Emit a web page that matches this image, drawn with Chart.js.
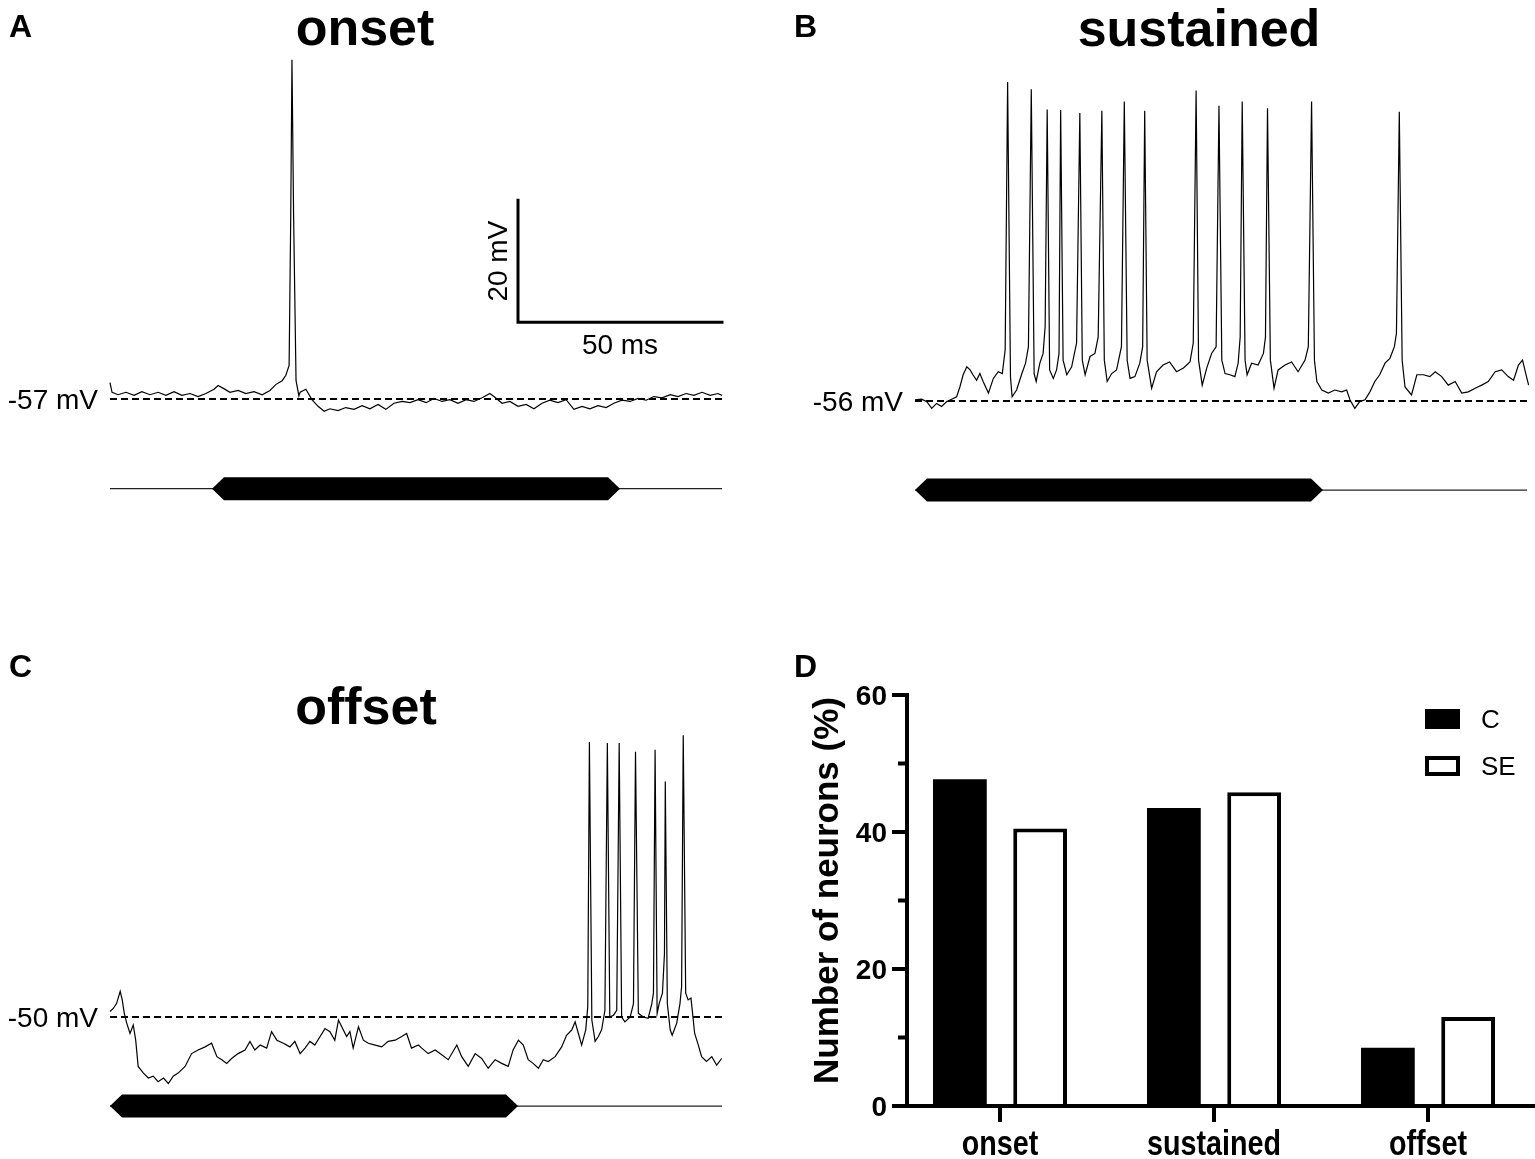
<!DOCTYPE html>
<html>
<head>
<meta charset="utf-8">
<script src="https://cdn.jsdelivr.net/npm/chart.js@4.4.1/dist/chart.umd.min.js"></script>
<style>
  html, body { margin: 0; padding: 0; background: #fff; overflow: hidden; }
  #fig { position: relative; width: 1535px; height: 1159px; background: #fff; }
  #fig canvas { position: absolute; left: 0; top: 0; }
</style>
</head>
<body>
<div id="fig">
  <canvas id="chartA" width="1535" height="1159"></canvas>
  <canvas id="chartB" width="1535" height="1159"></canvas>
  <canvas id="chartC" width="1535" height="1159"></canvas>
  <canvas id="chartD" width="1535" height="1159"></canvas>
</div>
<script>
// ---- data ----
// membrane potential traces, [time in ms, Vm in mV]
const traceA = [
  [0.0,-54.3],[0.5,-55.9],[2.0,-56.3],[3.9,-55.9],[5.9,-56.4],[7.8,-55.8],[9.8,-56.3],[11.8,-55.9],
  [13.7,-56.4],[15.7,-55.8],[17.6,-56.4],[19.6,-56.1],[21.6,-56.6],[23.5,-56.1],[25.5,-55.4],[26.5,-54.8],
  [27.9,-55.3],[29.4,-55.9],[31.4,-55.6],[33.3,-56.1],[35.3,-55.8],[37.3,-56.3],[39.2,-55.6],[40.7,-54.6],
  [42.2,-54.0],[43.1,-53.1],[43.9,-51.5],[44.3,-27.0],[44.6,-1.4],[45.0,-27.0],[45.6,-54.0],[46.3,-56.5],
  [46.6,-55.9],[48.0,-55.4],[49.5,-57.1],[51.0,-58.2],[52.5,-59.0],[53.9,-58.6],[55.9,-58.9],[57.8,-58.4],
  [59.8,-58.7],[61.8,-58.1],[63.7,-58.6],[65.7,-57.9],[67.6,-58.7],[69.6,-57.7],[71.6,-57.4],[73.5,-57.6],
  [75.5,-57.1],[77.5,-57.6],[79.4,-56.9],[81.4,-57.4],[83.3,-57.1],[85.3,-57.7],[87.3,-57.1],[89.2,-57.4],
  [91.2,-56.8],[93.1,-56.1],[94.1,-56.6],[96.1,-57.7],[98.0,-57.4],[100.0,-58.2],[102.0,-57.9],[103.9,-58.6],
  [105.9,-57.7],[107.8,-57.2],[109.8,-57.6],[111.8,-57.1],[113.7,-58.7],[115.7,-58.2],[117.6,-58.6],[119.6,-58.1],
  [121.6,-58.4],[123.5,-57.7],[125.5,-57.2],[127.5,-57.4],[129.4,-56.9],[131.4,-57.2],[133.3,-56.6],[135.3,-56.8],
  [137.3,-56.3],[139.2,-56.6],[141.2,-56.1],[143.1,-56.4],[145.1,-55.9],[147.1,-56.4],[149.0,-56.1],[150.0,-56.4]
];

const traceB = [
  [0.0,-55.8],[1.6,-55.7],[2.9,-56.1],[4.1,-57.2],[5.3,-56.4],[6.5,-56.9],[7.8,-56.1],[9.0,-55.7],
  [10.2,-55.3],[11.0,-53.7],[11.8,-51.7],[12.7,-50.4],[13.5,-50.9],[14.2,-51.7],[15.1,-52.6],[15.9,-51.5],
  [16.7,-52.8],[18.0,-54.7],[19.2,-52.3],[20.4,-51.2],[21.4,-51.5],[22.1,-47.6],[22.7,-3.7],[23.4,-52.0],
  [23.8,-55.3],[24.9,-54.2],[26.2,-51.5],[27.1,-49.8],[27.8,-47.1],[28.5,-4.9],[29.2,-51.5],[29.7,-52.8],
  [30.6,-49.8],[31.4,-48.2],[31.9,-43.8],[32.4,-8.2],[33.0,-50.9],[33.9,-52.3],[34.7,-50.9],[35.3,-48.2],
  [35.7,-8.3],[36.3,-49.3],[37.2,-51.7],[38.4,-50.4],[39.6,-46.5],[40.4,-8.8],[41.0,-49.3],[41.7,-51.7],
  [42.9,-48.7],[44.1,-48.2],[44.9,-45.5],[45.8,-8.4],[46.4,-49.3],[47.1,-52.8],[48.2,-51.5],[49.4,-50.9],
  [50.6,-47.1],[51.3,-6.9],[52.0,-49.3],[52.7,-52.3],[53.9,-52.0],[55.1,-49.8],[55.8,-47.1],[56.3,-8.4],
  [56.9,-49.3],[58.0,-53.9],[59.2,-51.2],[60.8,-50.1],[62.4,-49.6],[64.1,-51.2],[65.8,-50.6],[67.4,-49.6],
  [68.2,-46.5],[68.9,-5.1],[69.5,-49.3],[70.4,-53.4],[71.5,-50.6],[72.7,-48.2],[73.8,-47.1],[74.5,-7.6],
  [75.2,-49.3],[76.0,-51.5],[77.2,-51.7],[78.4,-52.0],[79.2,-49.8],[79.7,-45.5],[80.2,-6.9],[80.9,-49.3],
  [81.4,-51.7],[82.5,-49.8],[84.1,-50.1],[85.4,-48.2],[85.9,-45.5],[86.4,-8.0],[87.1,-49.3],[88.0,-53.9],
  [89.0,-50.9],[90.7,-50.1],[92.3,-49.6],[93.9,-51.2],[95.6,-49.3],[96.4,-47.1],[97.2,-6.9],[97.9,-49.3],
  [98.5,-52.8],[99.7,-54.2],[101.3,-54.7],[102.9,-54.2],[104.6,-54.5],[105.8,-54.2],[106.6,-55.8],[107.8,-57.2],
  [109.0,-56.1],[110.3,-55.8],[111.5,-54.5],[112.7,-52.8],[113.9,-51.7],[115.2,-49.8],[116.4,-49.0],[117.5,-47.1],
  [118.0,-44.9],[118.7,-8.6],[119.4,-49.3],[120.1,-53.7],[121.7,-55.0],[123.0,-51.7],[124.6,-51.7],[126.2,-52.0],
  [127.5,-51.2],[129.1,-52.0],[130.7,-53.4],[132.4,-52.8],[134.0,-54.7],[135.6,-54.5],[137.3,-53.9],[138.9,-53.4],
  [140.5,-52.8],[142.2,-51.2],[143.8,-50.9],[145.4,-52.0],[146.7,-52.6],[147.9,-50.1],[148.9,-49.3],[149.7,-51.5],
  [150.4,-53.4]
];

const traceC = [
  [0.0,-49.1],[0.8,-48.6],[1.6,-47.8],[2.5,-45.8],[3.0,-47.2],[3.5,-49.4],[4.1,-51.0],[4.9,-52.7],
  [5.7,-51.3],[6.3,-53.8],[6.9,-58.1],[8.2,-59.2],[9.4,-60.0],[10.6,-59.7],[11.8,-60.6],[13.1,-60.0],
  [14.3,-60.9],[15.5,-59.7],[16.7,-59.2],[18.4,-58.1],[20.0,-56.0],[21.6,-55.4],[23.3,-54.9],[24.9,-54.3],
  [26.2,-56.5],[27.4,-57.0],[28.6,-57.6],[29.8,-56.8],[31.4,-56.0],[33.1,-55.4],[34.3,-54.0],[35.5,-55.4],
  [36.8,-54.6],[38.4,-55.1],[39.6,-52.4],[40.9,-53.8],[42.5,-54.3],[44.1,-54.9],[45.3,-54.0],[46.6,-56.0],
  [47.8,-55.1],[49.0,-54.0],[50.2,-54.6],[51.5,-53.2],[52.7,-51.9],[53.9,-52.4],[55.1,-53.8],[56.0,-50.5],
  [56.8,-51.6],[58.0,-53.2],[58.8,-52.4],[59.6,-55.1],[60.9,-51.6],[62.1,-53.8],[63.3,-54.3],[65.0,-54.6],
  [66.6,-54.9],[68.2,-54.0],[69.9,-53.8],[71.5,-53.2],[72.7,-52.7],[73.9,-55.1],[75.6,-54.6],[76.4,-55.1],
  [78.0,-56.0],[79.7,-55.4],[81.3,-56.2],[82.9,-57.0],[85.0,-54.6],[86.2,-56.5],[87.8,-58.1],[89.5,-56.0],
  [91.1,-56.8],[92.7,-58.4],[94.4,-57.0],[96.0,-57.6],[97.6,-58.1],[98.8,-55.4],[100.1,-53.8],[101.3,-54.6],
  [102.5,-57.0],[103.7,-57.6],[105.0,-58.4],[106.2,-57.0],[107.4,-57.3],[109.1,-56.5],[110.7,-54.9],[111.9,-53.0],
  [113.2,-52.1],[114.0,-50.8],[114.8,-52.7],[115.6,-54.6],[116.6,-52.1],[117.1,-48.3],[117.5,-4.9],[118.1,-50.5],
  [118.9,-54.0],[119.7,-53.2],[120.5,-52.1],[121.3,-48.9],[121.9,-5.1],[122.5,-50.0],[123.4,-49.7],[124.2,-48.9],
  [124.8,-5.1],[125.4,-50.0],[126.2,-50.8],[127.5,-50.0],[128.3,-47.8],[128.8,-6.5],[129.5,-49.4],[130.7,-50.0],
  [131.9,-50.2],[132.8,-47.8],[133.2,-46.1],[133.6,-6.2],[134.1,-49.4],[134.6,-47.8],[135.4,-46.1],[135.9,-39.6],
  [136.1,-11.4],[136.6,-47.8],[137.3,-52.1],[137.8,-53.0],[138.9,-51.0],[139.7,-47.8],[140.1,-45.0],[140.5,-3.8],
  [141.1,-46.1],[141.7,-47.2],[142.4,-46.9],[143.3,-52.7],[144.2,-54.6],[145.0,-56.5],[146.2,-57.3],[147.5,-56.5],
  [148.7,-57.9],[149.9,-56.8]
];

// resting levels (dashed lines), mV
const restA = -57;
const restB = -56;
const restC = -50;

// sound stimulus windows, ms
const stimA = [25, 125];
const stimB = [0, 100];
const stimC = [0, 100];

// scale bar
const scaleBarMs = 50;
const scaleBarMv = 20;

// panel D
const categories = ['onset', 'sustained', 'offset'];
const pctC = [47.7, 43.5, 8.5];
const pctSE = [40.5, 45.8, 13.0];
const yTicks = [0, 20, 40, 60];
const yMinorTicks = [10, 30, 50];

// ---- layout helpers ----
const FIG_W = 1535, FIG_H = 1159;
const PX_PER_MS = 4.08;
const PX_PER_MV = 6.1;
const SWEEP_MS = 150;
const FONT = '"Liberation Sans", Arial, Helvetica, sans-serif';

Chart.defaults.font.family = FONT;

function tracePadding(left, restY, rest, yMin, yMax) {
  const top = restY - (yMax - rest) * PX_PER_MV;
  const bottom = restY + (rest - yMin) * PX_PER_MV;
  const right = left + SWEEP_MS * PX_PER_MS;
  return { left: left, right: FIG_W - right, top: top, bottom: FIG_H - bottom };
}

function panelHeading(ctx, o) {
  ctx.fillStyle = '#000';
  ctx.textBaseline = 'alphabetic';
  ctx.font = 'bold 32px ' + FONT;
  ctx.textAlign = 'left';
  ctx.fillText(o.letter, o.letterX, o.letterY);
  if (o.title) {
    ctx.font = 'bold 52px ' + FONT;
    ctx.textAlign = 'center';
    ctx.fillText(o.title, o.titleX, o.titleY);
  }
}

const traceDecor = {
  id: 'traceDecor',
  afterDatasetsDraw(chart, args, o) {
    const ctx = chart.ctx;
    const x = chart.scales.x, y = chart.scales.y, area = chart.chartArea;
    ctx.save();

    // stimulus: thin line plus filled bar with pointed ends
    const sy = y.getPixelForValue(o.stimLevel);
    ctx.strokeStyle = '#222';
    ctx.lineWidth = 1.3;
    ctx.beginPath();
    ctx.moveTo(area.left, sy);
    ctx.lineTo(area.right, sy);
    ctx.stroke();
    const x1 = x.getPixelForValue(o.stim[0]);
    const x2 = x.getPixelForValue(o.stim[1]);
    const h = 11.5, tip = 12;
    ctx.fillStyle = '#000';
    ctx.beginPath();
    ctx.moveTo(x1, sy);
    ctx.lineTo(x1 + tip, sy - h);
    ctx.lineTo(x2 - tip, sy - h);
    ctx.lineTo(x2, sy);
    ctx.lineTo(x2 - tip, sy + h);
    ctx.lineTo(x1 + tip, sy + h);
    ctx.closePath();
    ctx.fill();

    // resting potential label
    const ry = y.getPixelForValue(o.rest);
    ctx.font = '28px ' + FONT;
    ctx.textAlign = 'right';
    ctx.textBaseline = 'alphabetic';
    ctx.fillText(o.rest + ' mV', area.left - 12, ry + 10);

    // scale bar
    if (o.scaleBar) {
      const cx = x.getPixelForValue(o.scaleBar.t);
      const cy = y.getPixelForValue(o.scaleBar.v);
      const tx = x.getPixelForValue(o.scaleBar.t + scaleBarMs);
      const ty = y.getPixelForValue(o.scaleBar.v + scaleBarMv);
      ctx.strokeStyle = '#000';
      ctx.lineWidth = 3;
      ctx.lineCap = 'square';
      ctx.beginPath();
      ctx.moveTo(cx, ty);
      ctx.lineTo(cx, cy);
      ctx.lineTo(tx, cy);
      ctx.stroke();
      ctx.font = '28px ' + FONT;
      ctx.textAlign = 'center';
      ctx.fillText(scaleBarMs + ' ms', (cx + tx) / 2, cy + 32);
      ctx.save();
      ctx.translate(cx - 11, (cy + ty) / 2);
      ctx.rotate(-Math.PI / 2);
      ctx.fillText(scaleBarMv + ' mV', 0, 0);
      ctx.restore();
    }

    panelHeading(ctx, o);
    ctx.restore();
  }
};

function traceChart(id, trace, rest, yRange, padding, decor) {
  return new Chart(document.getElementById(id), {
    type: 'line',
    data: {
      datasets: [
        {
          data: trace.map(p => ({ x: p[0], y: p[1] })),
          borderColor: '#000',
          borderWidth: 1.2,
          pointRadius: 0,
          tension: 0,
          clip: false
        },
        {
          data: [{ x: 0, y: rest }, { x: SWEEP_MS, y: rest }],
          borderColor: '#000',
          borderWidth: 2,
          borderDash: [7, 4],
          pointRadius: 0,
          clip: false
        }
      ]
    },
    options: {
      responsive: false,
      animation: false,
      events: [],
      layout: { padding: padding },
      plugins: {
        legend: { display: false },
        tooltip: { enabled: false },
        traceDecor: decor
      },
      scales: {
        x: { type: 'linear', min: 0, max: SWEEP_MS, display: false },
        y: { type: 'linear', min: yRange[0], max: yRange[1], display: false }
      }
    },
    plugins: [traceDecor]
  });
}

// A: onset
traceChart('chartA', traceA, restA, [-80, 0], tracePadding(110, 399, restA, -80, 0), {
  rest: restA, stim: stimA, stimLevel: -71.7,
  scaleBar: { t: 100, v: -44.4 },
  letter: 'A', letterX: 9, letterY: 37,
  title: 'onset', titleX: 365, titleY: 45
});

// B: sustained
traceChart('chartB', traceB, restB, [-80, 0], tracePadding(915, 401, restB, -80, 0), {
  rest: restB, stim: stimB, stimLevel: -70.6,
  letter: 'B', letterX: 794, letterY: 37,
  title: 'sustained', titleX: 1199, titleY: 46
});

// C: offset
traceChart('chartC', traceC, restC, [-70, 0], tracePadding(110, 1017, restC, -70, 0), {
  rest: restC, stim: stimC, stimLevel: -64.6,
  letter: 'C', letterX: 9, letterY: 677,
  title: 'offset', titleX: 366, titleY: 724
});

// D: bar chart
const barAxes = {
  id: 'barAxes',
  afterDatasetsDraw(chart, args, o) {
    const ctx = chart.ctx;
    const x = chart.scales.x, y = chart.scales.y, area = chart.chartArea;
    const ax = area.left + o.axisOffset;
    const y0 = y.getPixelForValue(0);
    ctx.save();
    ctx.strokeStyle = '#000';
    ctx.lineWidth = 4;
    ctx.lineCap = 'butt';
    ctx.beginPath();
    ctx.moveTo(ax, y.getPixelForValue(yTicks[yTicks.length - 1]) - 2);
    ctx.lineTo(ax, y0 + 2);
    ctx.moveTo(area.left - 1, y0);
    ctx.lineTo(area.right, y0);
    yTicks.forEach(v => {
      const p = y.getPixelForValue(v);
      ctx.moveTo(ax - 15, p);
      ctx.lineTo(ax, p);
    });
    yMinorTicks.forEach(v => {
      const p = y.getPixelForValue(v);
      ctx.moveTo(ax - 9, p);
      ctx.lineTo(ax, p);
    });
    categories.forEach((c, i) => {
      const p = x.getPixelForValue(i);
      ctx.moveTo(p, y0);
      ctx.lineTo(p, y0 + 16);
    });
    ctx.stroke();

    // tick labels
    ctx.fillStyle = '#000';
    ctx.textBaseline = 'alphabetic';
    ctx.font = 'bold 28px ' + FONT;
    ctx.textAlign = 'right';
    yTicks.forEach(v => {
      ctx.fillText(String(v), ax - 20, y.getPixelForValue(v) + 10);
    });
    ctx.font = 'bold 35px ' + FONT;
    ctx.textAlign = 'center';
    categories.forEach((c, i) => {
      ctx.save();
      ctx.translate(x.getPixelForValue(i), y0 + 49);
      ctx.scale(0.82, 1);
      ctx.fillText(c, 0, 0);
      ctx.restore();
    });

    // axis title
    ctx.save();
    ctx.font = 'bold 35px ' + FONT;
    ctx.translate(838, (area.top + y0) / 2 - 10);
    ctx.rotate(-Math.PI / 2);
    ctx.textAlign = 'center';
    ctx.fillText('Number of neurons (%)', 0, 0);
    ctx.restore();

    // legend
    const ds = chart.data.datasets;
    ctx.font = '26px ' + FONT;
    ctx.textAlign = 'left';
    ds.forEach((d, i) => {
      const ly = o.legendY[i];
      ctx.fillStyle = d.backgroundColor;
      ctx.fillRect(o.legendX, ly - 10, 35, 20);
      if (d.borderWidth) {
        ctx.strokeStyle = d.borderColor;
        ctx.lineWidth = 4;
        ctx.strokeRect(o.legendX + 2, ly - 8, 31, 16);
      }
      ctx.fillStyle = '#000';
      ctx.fillText(d.label, o.legendX + 56, ly + 9);
    });

    panelHeading(ctx, o);
    ctx.restore();
  }
};

new Chart(document.getElementById('chartD'), {
  type: 'bar',
  data: {
    labels: categories,
    datasets: [
      { label: 'C', data: pctC, backgroundColor: '#000', borderWidth: 0 },
      { label: 'SE', data: pctSE, backgroundColor: '#fff', borderColor: '#000', borderWidth: 4 }
    ]
  },
  options: {
    responsive: false,
    animation: false,
    events: [],
    categoryPercentage: 0.75,
    barPercentage: 0.67,
    layout: { padding: { left: 893, right: 0, top: 695, bottom: FIG_H - 1106 } },
    plugins: {
      legend: { display: false },
      tooltip: { enabled: false },
      barAxes: {
        axisOffset: 14,
        legendX: 1425,
        legendY: [719, 766],
        letter: 'D', letterX: 794, letterY: 677
      }
    },
    scales: {
      x: { type: 'category', offset: true, display: false },
      y: { min: 0, max: 60, display: false }
    }
  },
  plugins: [barAxes]
});
</script>
</body>
</html>
